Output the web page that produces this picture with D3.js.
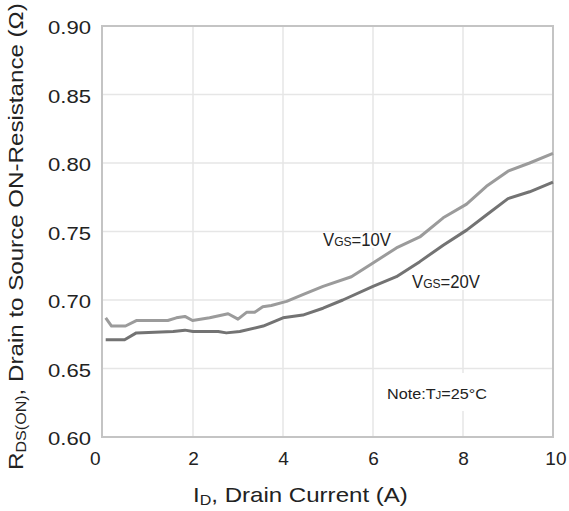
<!DOCTYPE html>
<html><head><meta charset="utf-8">
<script src="https://cdn.jsdelivr.net/npm/d3@7"></script>
<style>body{margin:0;background:#fff}svg{display:block}text{font-family:"Liberation Sans",Arial,sans-serif;fill:#222}</style>
</head><body><svg id="c" width="569" height="511"></svg>
<script>
// ---- data ----
const xTicks = [0, 2, 4, 6, 8, 10];
const yTicks = [0.60, 0.65, 0.70, 0.75, 0.80, 0.85, 0.90];
const idVgs10 = [0.06,0.19,0.5,0.74,1.44,1.63,1.82,1.99,2.37,2.78,3.0,3.19,3.37,3.55,3.74,4.08,4.44,4.89,5.52,6.0,6.52,7.04,7.56,8.08,8.52,9.0,9.48,10.0];
const rdsVgs10 = [0.687,0.681,0.681,0.685,0.685,0.687,0.688,0.685,0.687,0.690,0.686,0.691,0.691,0.695,0.696,0.699,0.704,0.710,0.717,0.727,0.738,0.746,0.760,0.770,0.783,0.794,0.800,0.807];
const idVgs20 = [0.06,0.48,0.74,1.56,1.82,2.0,2.56,2.74,3.04,3.56,4.0,4.44,4.89,5.33,6.0,6.52,7.04,7.56,8.08,8.52,9.0,9.48,10.0];
const rdsVgs20 = [0.671,0.671,0.676,0.677,0.678,0.677,0.677,0.676,0.677,0.681,0.687,0.689,0.694,0.700,0.710,0.717,0.728,0.740,0.751,0.762,0.774,0.779,0.786];

const svg = d3.select("#c");
const x = d3.scaleLinear().domain([0, 10]).range([103, 553]);
const y = d3.scaleLinear().domain([0.60, 0.90]).range([437, 26]);

// grid
const g = svg.append("g");
g.selectAll(".vg").data(xTicks.slice(1, -1)).join("line")
  .attr("x1", d => x(d)).attr("x2", d => x(d)).attr("y1", y(0.9)).attr("y2", y(0.6))
  .attr("stroke", "#e6e6e6").attr("stroke-width", 1.5);
g.selectAll(".hg").data(yTicks.slice(1, -1)).join("line")
  .attr("y1", d => y(d)).attr("y2", d => y(d)).attr("x1", x(0)).attr("x2", x(10))
  .attr("stroke", "#e6e6e6").attr("stroke-width", 1.5);

// white boxes behind annotation labels
const bg = svg.append("g");

// frame
svg.append("rect").attr("x", x(0) - 1).attr("y", y(0.9)).attr("width", x(10) - x(0) + 1).attr("height", y(0.6) - y(0.9))
  .attr("fill", "none").attr("stroke", "#c4c4c4").attr("stroke-width", 2);

// lines
const line = d3.line().x(d => x(d[0])).y(d => y(d[1]));
svg.append("path").datum(idVgs10.map((v, i) => [v, rdsVgs10[i]])).attr("d", line)
  .attr("fill", "none").attr("stroke", "#9b9b9b").attr("stroke-width", 3).attr("stroke-linejoin", "round");
svg.append("path").datum(idVgs20.map((v, i) => [v, rdsVgs20[i]])).attr("d", line)
  .attr("fill", "none").attr("stroke", "#737373").attr("stroke-width", 3).attr("stroke-linejoin", "round");

function fitX(sel, target, cx, cy) {
  const w = sel.node().getBBox().width;
  const s = target / w;
  sel.attr("transform", `translate(${cx},${cy}) scale(${s},1) translate(${-cx},${-cy})`);
}

// y axis tick labels
const yAxis = d3.axisLeft(y).tickValues(yTicks).tickFormat(d3.format(".2f")).tickSize(0).tickPadding(0);
const ya = svg.append("g").attr("transform", "translate(91,2)").call(yAxis);
ya.select(".domain").remove();
ya.selectAll("text").attr("font-size", 18.5).attr("fill", "#222").attr("font-family", '"Liberation Sans",Arial,sans-serif')
  .each(function(d) { const t = d3.select(this); const w = this.getBBox().width; const s = 43 / w;
    t.attr("transform", `scale(${s},1)`).attr("x", 0); });

// x axis tick labels
const xAxis = d3.axisBottom(x).tickValues(xTicks).tickFormat(d3.format("d")).tickSize(0).tickPadding(0);
const xa = svg.append("g").attr("transform", "translate(0,451)").call(xAxis);
xa.select(".domain").remove();
xa.selectAll("text").attr("font-size", 19).attr("fill", "#222").attr("font-family", '"Liberation Sans",Arial,sans-serif');
xa.selectAll("text").filter(d => d === 0).attr("text-anchor", "end").attr("dx", -3);
xa.selectAll("text").filter(d => d === 10).attr("text-anchor", "end").attr("dx", 13);

// x axis title
const xt = svg.append("text").attr("x", 193).attr("y", 502).attr("font-size", 21);
xt.append("tspan").text("I");
xt.append("tspan").attr("font-size", 14).attr("dy", 3).text("D");
xt.append("tspan").attr("dy", -3).text(", Drain Current (A)");
fitX(xt, 215, 193, 502);

// y axis title
const ytg = svg.append("g").attr("transform", "translate(23,470) rotate(-90)");
const yt = ytg.append("text").attr("x", 0).attr("y", 0).attr("font-size", 21);
yt.append("tspan").text("R");
yt.append("tspan").attr("font-size", 14).attr("dy", 3).text("DS(ON)");
yt.append("tspan").attr("dy", -3).text(", Drain to Source ON-Resistance (Ω)");
fitX(yt, 467, 0, 0);

// annotations
function vgsLabel(px, py, num) {
  const t = svg.append("text").attr("x", px).attr("y", py).attr("font-size", 18).attr("fill", "#222");
  t.append("tspan").text("V");
  t.append("tspan").attr("font-size", 13).text("GS");
  t.append("tspan").text("=" + num + "V");
  fitX(t, 68, px, py);
  bg.append("rect").attr("x", px).attr("y", py - 14).attr("width", 68).attr("height", 16).attr("fill", "#fff");
}
vgsLabel(323, 246, 10);
vgsLabel(412, 288, 20);

bg.append("rect").attr("x", 384).attr("y", 373).attr("width", 106).attr("height", 38).attr("fill", "#fff");
const nt = svg.append("text").attr("x", 387).attr("y", 399).attr("font-size", 15.5).attr("fill", "#222");
nt.append("tspan").text("Note:T");
nt.append("tspan").attr("font-size", 11).text("J");
nt.append("tspan").text("=25°C");
fitX(nt, 100, 387, 399);
</script></body></html>
